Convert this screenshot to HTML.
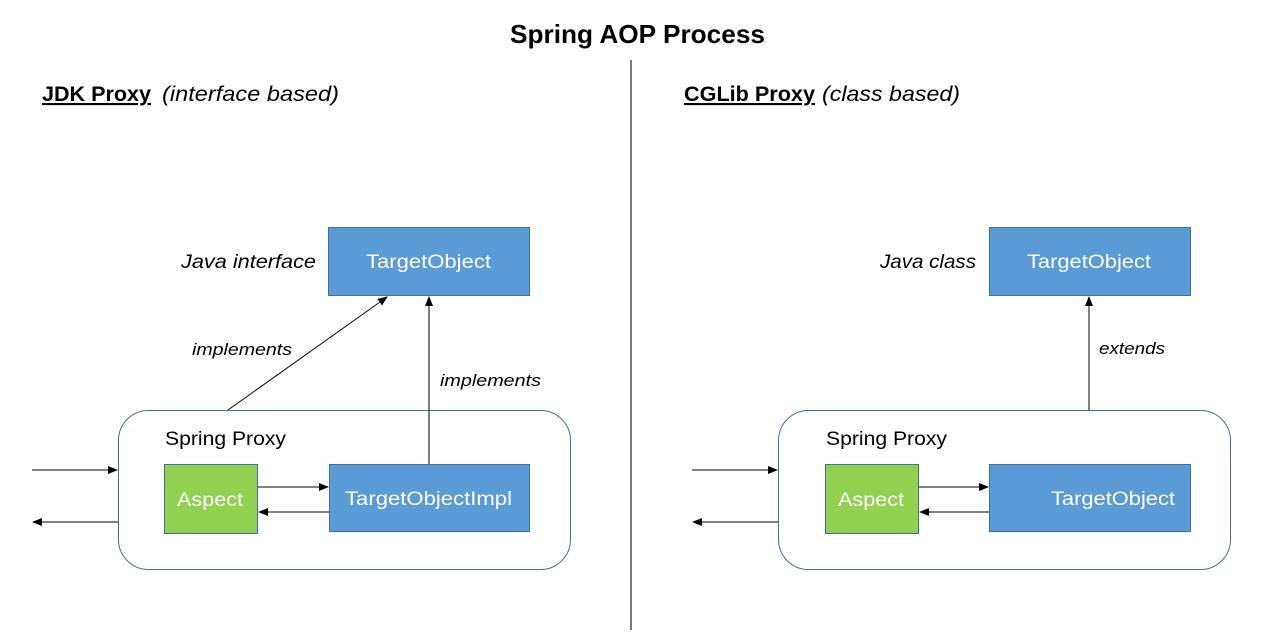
<!DOCTYPE html>
<html><head><meta charset="utf-8"><style>
body{margin:0;background:#fff;width:1279px;height:630px;overflow:hidden}
svg text{font-family:"Liberation Sans",sans-serif}
</style></head><body>
<svg width="1279" height="630" viewBox="0 0 1279 630" xmlns="http://www.w3.org/2000/svg">
<defs><marker id="a" markerWidth="10" markerHeight="8" refX="9" refY="4" orient="auto" markerUnits="userSpaceOnUse"><path d="M0,0 L10,4 L0,8 z" fill="#000"/></marker></defs>
<text x="510" y="43" font-size="26" font-weight="bold" textLength="255" lengthAdjust="spacingAndGlyphs">Spring AOP Process</text>
<line x1="631" y1="60" x2="631" y2="630" stroke="#222" stroke-width="1.2"/>
<text x="42" y="101" font-size="21" font-weight="bold" text-decoration="underline" textLength="109" lengthAdjust="spacingAndGlyphs">JDK Proxy</text>
<text x="162" y="101" font-size="21" font-style="italic" textLength="177" lengthAdjust="spacingAndGlyphs">(interface based)</text>
<text x="684" y="101" font-size="21" font-weight="bold" text-decoration="underline" textLength="131" lengthAdjust="spacingAndGlyphs">CGLib Proxy</text>
<text x="822" y="101" font-size="21" font-style="italic" textLength="138" lengthAdjust="spacingAndGlyphs">(class based)</text>

<!-- left -->
<rect x="118.5" y="410.5" width="452" height="159" rx="30" fill="#fff" stroke="#41719c"/>
<text x="165" y="445" font-size="19" textLength="121" lengthAdjust="spacingAndGlyphs">Spring Proxy</text>
<rect x="328.5" y="227.5" width="201" height="68" fill="#5b9bd5" stroke="#41719c"/>
<text x="366" y="268" font-size="19" fill="#fff" textLength="125" lengthAdjust="spacingAndGlyphs">TargetObject</text>
<text x="181" y="268" font-size="19" font-style="italic" textLength="135" lengthAdjust="spacingAndGlyphs">Java interface</text>
<rect x="164.5" y="464.5" width="93" height="69" fill="#92d050" stroke="#41719c"/>
<text x="177" y="506" font-size="19" fill="#fff" textLength="66" lengthAdjust="spacingAndGlyphs">Aspect</text>
<rect x="329.5" y="464.5" width="200" height="67" fill="#5b9bd5" stroke="#41719c"/>
<text x="345" y="505" font-size="19" fill="#fff" textLength="167" lengthAdjust="spacingAndGlyphs">TargetObjectImpl</text>
<line x1="228" y1="410" x2="387" y2="297" stroke="#000" marker-end="url(#a)"/>
<line x1="429" y1="464" x2="429" y2="297" stroke="#000" marker-end="url(#a)"/>
<text x="192" y="355" font-size="17" font-style="italic" textLength="100" lengthAdjust="spacingAndGlyphs">implements</text>
<text x="440" y="386" font-size="17" font-style="italic" textLength="101" lengthAdjust="spacingAndGlyphs">implements</text>
<line x1="32" y1="470" x2="117" y2="470" stroke="#000" marker-end="url(#a)"/>
<line x1="118" y1="522" x2="33" y2="522" stroke="#000" marker-end="url(#a)"/>
<line x1="258" y1="487" x2="328" y2="487" stroke="#000" marker-end="url(#a)"/>
<line x1="329" y1="512" x2="259" y2="512" stroke="#000" marker-end="url(#a)"/>

<!-- right -->
<rect x="778.5" y="410.5" width="452" height="159" rx="30" fill="#fff" stroke="#41719c"/>
<text x="826" y="445" font-size="19" textLength="121" lengthAdjust="spacingAndGlyphs">Spring Proxy</text>
<rect x="989.5" y="227.5" width="201" height="68" fill="#5b9bd5" stroke="#41719c"/>
<text x="1027" y="268" font-size="19" fill="#fff" textLength="124" lengthAdjust="spacingAndGlyphs">TargetObject</text>
<text x="880" y="268" font-size="19" font-style="italic" textLength="96" lengthAdjust="spacingAndGlyphs">Java class</text>
<rect x="825.5" y="464.5" width="93" height="69" fill="#92d050" stroke="#41719c"/>
<text x="838" y="506" font-size="19" fill="#fff" textLength="66" lengthAdjust="spacingAndGlyphs">Aspect</text>
<rect x="989.5" y="464.5" width="201" height="67" fill="#5b9bd5" stroke="#41719c"/>
<text x="1051" y="505" font-size="19" fill="#fff" textLength="124" lengthAdjust="spacingAndGlyphs">TargetObject</text>
<line x1="1089" y1="410" x2="1089" y2="297" stroke="#000" marker-end="url(#a)"/>
<text x="1099" y="354" font-size="17" font-style="italic" textLength="66" lengthAdjust="spacingAndGlyphs">extends</text>
<line x1="692" y1="470" x2="777" y2="470" stroke="#000" marker-end="url(#a)"/>
<line x1="778" y1="522" x2="693" y2="522" stroke="#000" marker-end="url(#a)"/>
<line x1="919" y1="487" x2="988" y2="487" stroke="#000" marker-end="url(#a)"/>
<line x1="989" y1="512" x2="920" y2="512" stroke="#000" marker-end="url(#a)"/>
</svg>
</body></html>
